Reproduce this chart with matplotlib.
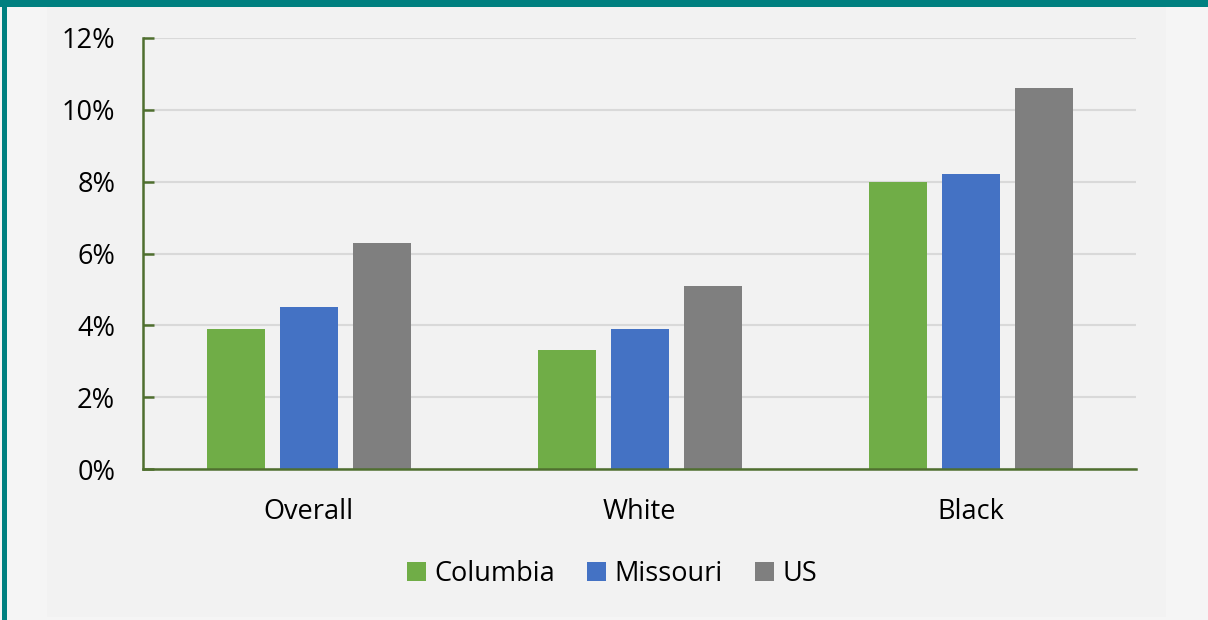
import matplotlib.pyplot as plt
import numpy as np
from matplotlib.patches import Rectangle
from matplotlib.ticker import FuncFormatter

# ===== data =====
categories = ['Overall', 'White', 'Black']
series_names = ['Columbia', 'Missouri', 'US']
columbia = [3.9, 3.3, 8.0]
missouri = [4.5, 3.9, 8.2]
us = [6.3, 5.1, 10.6]
y_ticks = [0, 2, 4, 6, 8, 10, 12]

colors = ['#70ad47', '#4472c4', '#7f7f7f']
spine_color = '#4f6f2f'
grid_color = '#d9d9d9'
teal = '#008080'

plt.rcParams['font.family'] = ['Open Sans', 'DejaVu Sans']

W, H = 1208, 620
fig = plt.figure(figsize=(W / 100, H / 100), dpi=100)
fig.patch.set_facecolor('#f5f5f5')

# inner panel and teal frame
fig.patches.append(Rectangle((47 / W, 3 / H), (1166 - 47) / W, (613 - 3) / H,
                             transform=fig.transFigure, facecolor='#f2f2f2',
                             edgecolor='none', zorder=0))
fig.patches.append(Rectangle((0, 1 - 7 / H), 1, 7 / H, transform=fig.transFigure,
                             facecolor=teal, edgecolor='none', zorder=1))
fig.patches.append(Rectangle((2 / W, 0), 5 / W, 1, transform=fig.transFigure,
                             facecolor=teal, edgecolor='none', zorder=1))

ax = fig.add_axes([143 / W, 1 - 469 / H, (1136 - 143) / W, (469 - 38) / H])
ax.set_facecolor('none')
ax.set_zorder(2)

x = np.arange(len(categories))
width = 58 / 331
step = 73 / 331
for i, (name, vals) in enumerate(zip(series_names, [columbia, missouri, us])):
    ax.bar(x + (i - 1) * step, vals, width, color=colors[i], label=name, zorder=3)

ax.set_xlim(-0.5, len(categories) - 0.5)
ax.set_ylim(0, 12)
ax.set_yticks(y_ticks)
ax.yaxis.set_major_formatter(FuncFormatter(lambda v, p: f'{v:.0f}%'))
ax.set_xticks(x)
ax.set_xticklabels(categories)
ax.grid(axis='y', color=grid_color, linewidth=1.5, zorder=0)

for s in ['top', 'right']:
    ax.spines[s].set_visible(False)
for s in ['left', 'bottom']:
    ax.spines[s].set_color(spine_color)
    ax.spines[s].set_linewidth(1.8)
    ax.spines[s].set_zorder(4)

ax.tick_params(axis='y', direction='in', length=8, width=1.8, color=spine_color,
               labelsize=19.5, pad=20, labelcolor='black')
ax.tick_params(axis='x', length=0, labelsize=19.5, pad=21, labelcolor='black')

leg = fig.legend(loc='center', bbox_to_anchor=(612 / W, 1 - 574 / H), ncol=3,
                 frameon=False, fontsize=19.5, handlelength=0.7, handleheight=0.7,
                 handletextpad=0.3, columnspacing=1.2)

fig.savefig('out.png', dpi=100, facecolor=fig.get_facecolor())
